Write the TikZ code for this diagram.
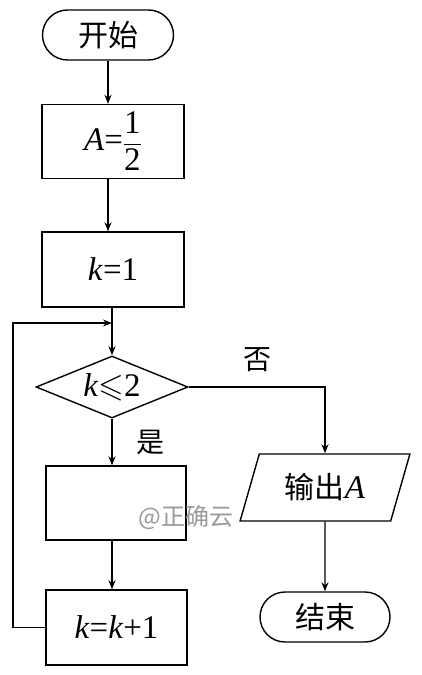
\documentclass[tikz,border=0pt]{standalone}
\usepackage{amsmath,amssymb}
\usepackage{fontspec}
\setmainfont{Liberation Serif}
\newfontfamily\tms{Liberation Serif}
\newfontfamily\cjk{Noto Sans CJK SC}
\usetikzlibrary{shapes.geometric,shapes.misc,arrows.meta}
\tikzset{
  base/.style={draw, line width=1.4pt, inner sep=0pt, font=\tms\fontsize{33}{36}\selectfont},
  term/.style={base, rounded rectangle, minimum width=131pt, minimum height=50pt},
  procbox/.style={base, rectangle, minimum width=142pt, minimum height=74pt},
  decide/.style={base, diamond, shape aspect=2.5, minimum width=152pt, minimum height=62pt},
  iobox/.style={base, trapezium, trapezium left angle=67, trapezium right angle=113,
    trapezium stretches=true, minimum width=170pt, minimum height=67pt},
  conn/.style={line width=1.4pt, -{Stealth[length=9pt,width=7pt]}},
  line/.style={line width=1.4pt},
  lab/.style={font=\cjk\fontsize{28}{32}\selectfont},
}
\begin{document}
\begin{tikzpicture}[x=1pt,y=-1pt]
\useasboundingbox (0,0) rectangle (421,675);
\node[term] (start) at (108,35) {\cjk\fontsize{30}{34}\selectfont 开始};
\node[procbox] (A) at (113,141.5) {\textit{A}=$\dfrac{\text{\tms 1}}{\text{\tms 2}}$};
\node[procbox, minimum height=75pt] (k1) at (113,269.5) {\textit{k}=1};
\node[decide] (dia) at (112,387) {\textit{k}$\leqslant$2};
\node[procbox, minimum width=140pt] (body) at (116,503) {};
\node[procbox, minimum width=141pt, minimum height=75pt] (inc) at (116.5,627.5) {\textit{k}=\textit{k}+1};
\node[iobox] (out) at (325,487.5) {{\cjk\fontsize{30}{34}\selectfont 输出}\textit{A}};
\node[term, minimum width=130pt] (end) at (325,617) {\cjk\fontsize{30}{34}\selectfont 结束};
\coordinate (J) at (112,323);
\coordinate (L) at (13,323);
% connectors
\draw[conn] (start.south) -- (start.south |- A.north);
\draw[conn] (start.south |- A.south) -- (start.south |- k1.north);
\draw[line] (dia.north |- k1.south) -- (J);
\draw[conn] (J) -- (dia.north);
\draw[conn] (dia.south) -- (dia.south |- body.north);
\draw[conn] (dia.south |- body.south) -- (dia.south |- inc.north);
\draw[conn] (inc.west) -- (inc.west -| L) -- (L) -- (J);
\draw[conn] (dia.east) -- (dia.east -| out.north) -- (out.north);
\draw[conn] (out.south) -- (end.north);
% labels
\node[lab] (no) at (257,360) {否};
\node[lab] (yes) at (150,442) {是};
\node[font=\cjk\fontsize{24}{28}\selectfont, text=gray!80] (wm) at (186,517) {@正确云};
\end{tikzpicture}
\end{document}
